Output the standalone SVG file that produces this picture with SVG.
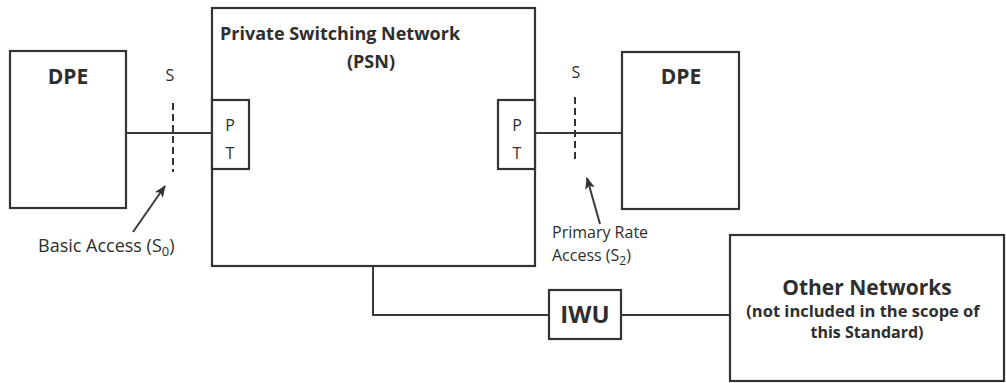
<svg xmlns="http://www.w3.org/2000/svg" width="1006" height="383" viewBox="0 0 1006 383">
<style>
.box{fill:#fff;stroke:#333;stroke-width:2.2}
.ln{fill:none;stroke:#3a3a3a;stroke-width:2}
.dash{fill:none;stroke:#333;stroke-width:2;stroke-dasharray:7,4}
text{font-family:"Open Sans","Noto Sans","Liberation Sans",sans-serif;fill:#2e2e2e}
.b{font-weight:bold}
.pt{font-size:16px}
.s{font-size:16px}
</style>
<defs>
<marker id="ah" viewBox="0 0 12 10" refX="11" refY="5" markerWidth="6" markerHeight="5" orient="auto" markerUnits="strokeWidth">
<path d="M0,0 L12,5 L0,10 L3,5 z" fill="#333"/>
</marker>
</defs>
<rect width="1006" height="383" fill="#fff"/>
<g id="connectors">
<line class="ln" x1="126" y1="133" x2="212" y2="133"/>
<line class="ln" x1="535" y1="133" x2="622" y2="133"/>
<polyline class="ln" points="373,266 373,315 549,315"/>
<line class="ln" x1="621" y1="315" x2="730" y2="315"/>
<line class="dash" x1="173" y1="103" x2="173" y2="172"/>
<line class="dash" x1="575" y1="97" x2="575" y2="163"/>
<line class="ln" x1="133" y1="232" x2="165" y2="186" marker-end="url(#ah)"/>
<line class="ln" x1="600" y1="224" x2="587" y2="178" marker-end="url(#ah)"/>
</g>
<g id="dpe-left">
<rect class="box" x="10" y="51" width="116" height="157"/>
<text class="b" x="68" y="84" font-size="21" text-anchor="middle">DPE</text>
</g>
<g id="psn">
<rect class="box" x="212" y="8" width="323" height="258"/>
<text class="b" x="220" y="40" font-size="18">Private Switching Network</text>
<text class="b" x="371" y="68" font-size="18" text-anchor="middle">(PSN)</text>
</g>
<g id="pt-left">
<rect class="box" x="212" y="100" width="37" height="69"/>
<text class="pt" x="230" y="131" text-anchor="middle">P</text>
<text class="pt" x="230" y="159" text-anchor="middle">T</text>
</g>
<g id="pt-right">
<rect class="box" x="498" y="100" width="37" height="69"/>
<text class="pt" x="517" y="131" text-anchor="middle">P</text>
<text class="pt" x="517" y="159" text-anchor="middle">T</text>
</g>
<g id="dpe-right">
<rect class="box" x="622" y="52" width="117" height="157"/>
<text class="b" x="681" y="84" font-size="21" text-anchor="middle">DPE</text>
</g>
<g id="iwu">
<rect class="box" x="549" y="290" width="72" height="49"/>
<text class="b" x="585" y="323" font-size="24" text-anchor="middle">IWU</text>
</g>
<g id="other-networks">
<rect class="box" x="730" y="235" width="274" height="146"/>
<text class="b" x="867" y="295" font-size="21" text-anchor="middle">Other Networks</text>
<text class="b" x="863" y="317" font-size="16.5" text-anchor="middle">(not included in the scope of</text>
<text class="b" x="867" y="338" font-size="16" text-anchor="middle">this Standard)</text>
</g>
<g id="labels">
<text class="s" x="170" y="81" text-anchor="middle">S</text>
<text class="s" x="576" y="78" text-anchor="middle">S</text>
<text x="38" y="252" font-size="18">Basic Access (S<tspan font-size="13" dy="4">0</tspan><tspan dy="-4">)</tspan></text>
<text x="552" y="238" font-size="16">Primary Rate</text>
<text x="552" y="261" font-size="16">Access (S<tspan font-size="12" dy="4">2</tspan><tspan dy="-4">)</tspan></text>
</g>
</svg>
